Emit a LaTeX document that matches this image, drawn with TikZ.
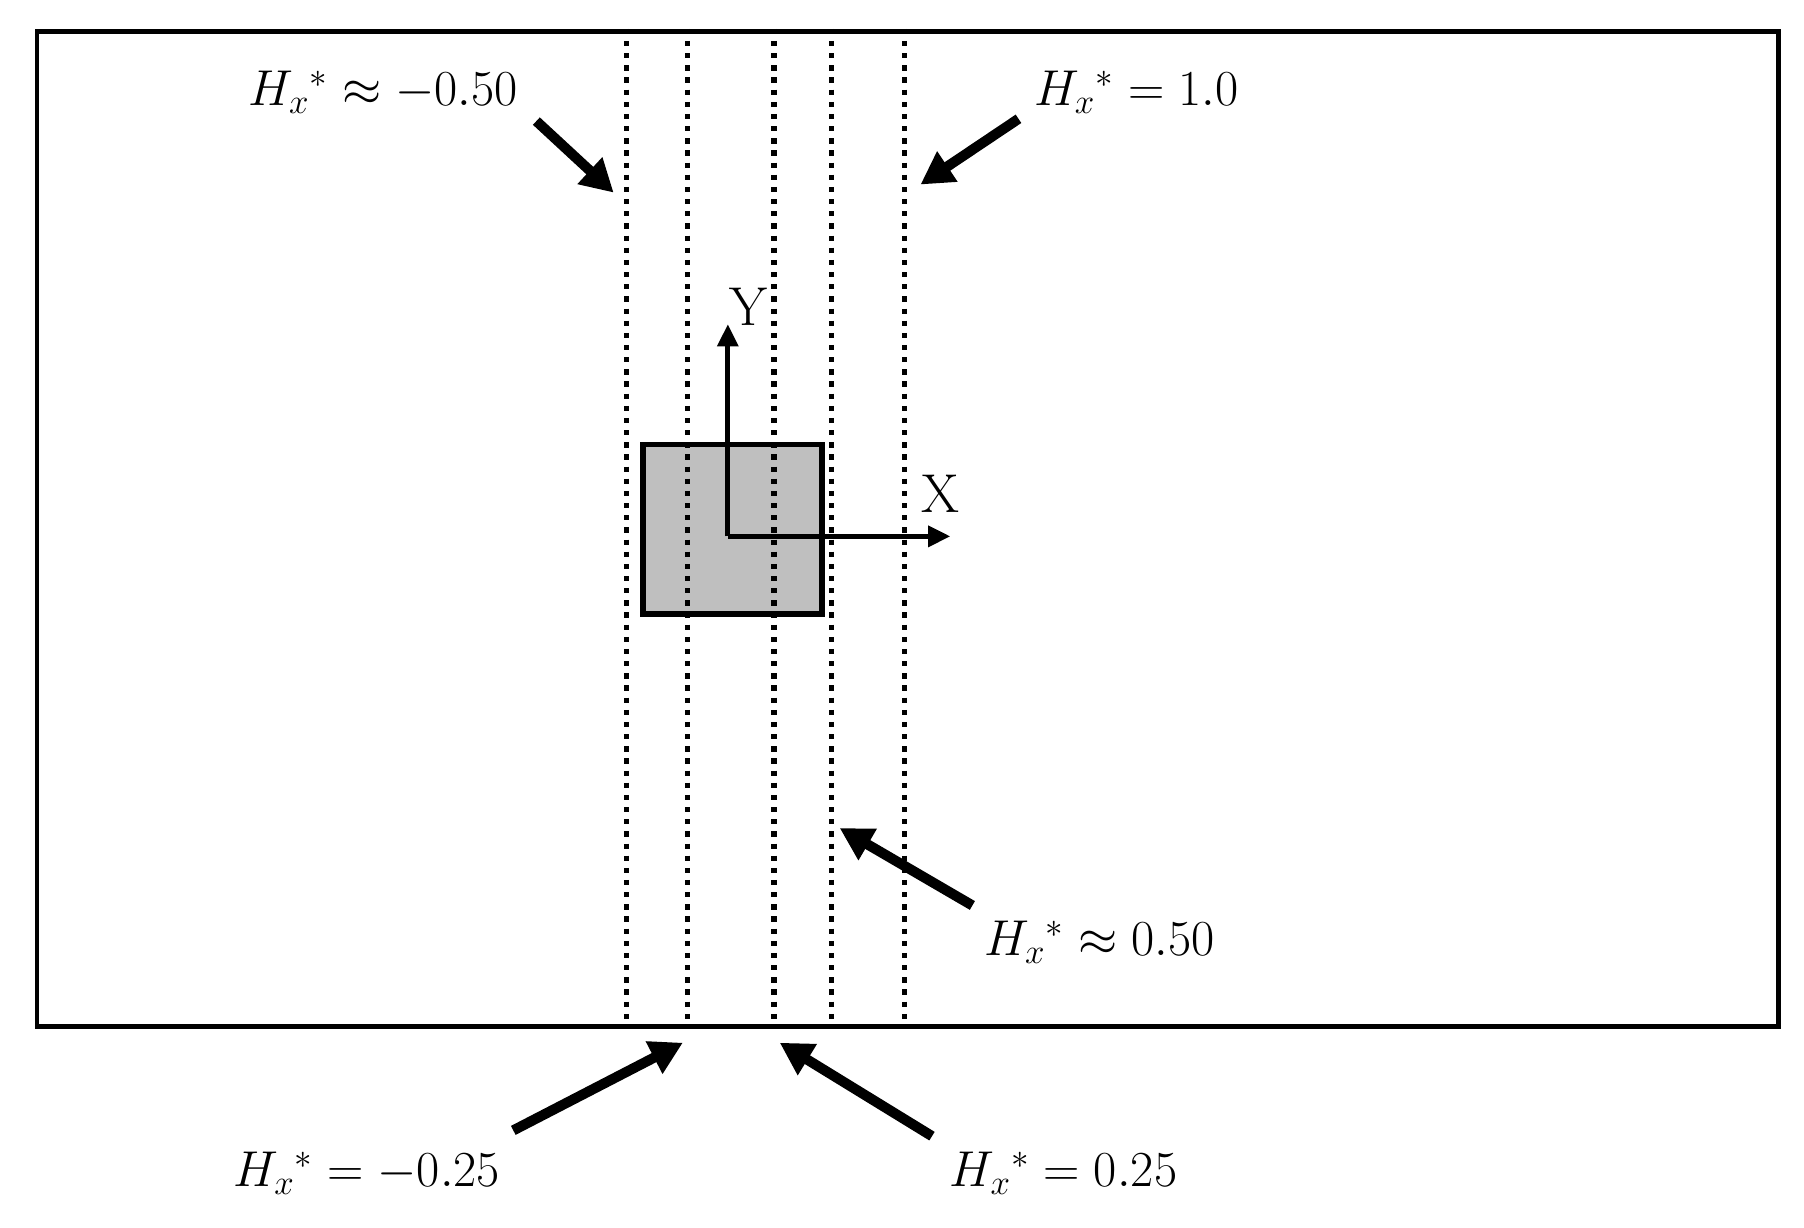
\documentclass[tikz,border=0pt]{standalone}
\usetikzlibrary{arrows.meta}
\tikzset{
  dotline/.style={line width=2.6pt, dash pattern=on 2.6pt off 3.4pt},
  bigarrow/.style={line width=5pt, -{Triangle[length=16pt,width=17pt]}},
  axisarrow/.style={line width=2.6pt, -{Triangle[length=11pt,width=10pt]}},
  lbl/.style={font=\fontsize{27}{30}\selectfont, inner sep=0pt}
}
\begin{document}
\begin{tikzpicture}[x=0.02cm,y=-0.02cm]
\useasboundingbox (0,0) rectangle (1564,1064);
\node[draw, line width=2.4pt, minimum width=30.2cm, minimum height=17.26cm, anchor=north west, inner sep=0pt] (frame) at (30,25) {};
\node[draw, fill=gray!50, line width=2.8pt, minimum width=3.1cm, minimum height=2.94cm, anchor=north west, inner sep=0pt] (sq) at (555,383) {};
\foreach \x/\n in {543/a,596/b,671/c,721/d,784/e}{
  \coordinate (\n t) at (\x,25);
  \coordinate (\n b) at (\x,888);
  \draw[dotline] (\n t) -- (\n b);
}
\coordinate (O) at (631,465);
\coordinate (Yend) at (631,281);
\coordinate (Xend) at (824,465);
\draw[axisarrow] (O) -- (Yend);
\draw[axisarrow] (O) -- (Xend);
\node[lbl] (Y) at (649,266) {Y};
\node[lbl] (X) at (815,428) {X};
\node[lbl] (l1) at (332,80) {$H_x{}^{*}\approx -0.50$};
\node[lbl] (l2) at (985,80) {$H_x{}^{*}= 1.0$};
\node[lbl] (l3) at (953,817) {$H_x{}^{*}\approx 0.50$};
\node[lbl] (l4) at (318,1017) {$H_x{}^{*}= -0.25$};
\node[lbl] (l5) at (922,1017) {$H_x{}^{*}= 0.25$};
\coordinate (s1) at (465,105); \coordinate (e1) at (532,167);
\coordinate (s2) at (883,103); \coordinate (e2) at (798,160);
\coordinate (s3) at (843,785); \coordinate (e3) at (728,718);
\coordinate (s4) at (445,980); \coordinate (e4) at (592,904);
\coordinate (s5) at (808,985); \coordinate (e5) at (676,904);
\foreach \i in {1,...,5}{\draw[bigarrow] (s\i) -- (e\i);}
\end{tikzpicture}
\end{document}
